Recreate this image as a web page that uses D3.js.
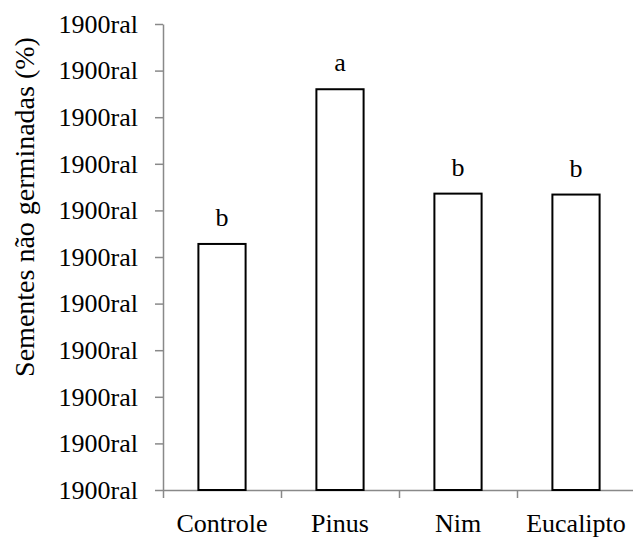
<!DOCTYPE html>
<html>
<head>
<meta charset="utf-8">
<script src="https://cdn.jsdelivr.net/npm/d3@7"></script>
</head>
<body style="margin:0">
<script>
// data
const categories = ["Controle", "Pinus", "Nim", "Eucalipto"];
const values = [52.8, 86.0, 63.6, 63.4];
const letters = ["b", "a", "b", "b"];
const yTicks = [0, 10, 20, 30, 40, 50, 60, 70, 80, 90, 100];
const yTickLabels = ["1900ral", "1900ral", "1900ral", "1900ral", "1900ral", "1900ral",
                     "1900ral", "1900ral", "1900ral", "1900ral", "1900ral"];
const yTitle = "Sementes não germinadas (%)";

const font = "'Liberation Serif', serif";
const fs = 26;

const width = 633, height = 538;
const margin = { top: 24, left: 163, bottom: 48, right: -2 };
const iwidth = width - margin.left - margin.right;
const iheight = height - margin.top - margin.bottom;

const svg = d3.select("body").append("svg")
    .attr("width", width)
    .attr("height", height)
    .style("font-family", font);

const g = svg.append("g").attr("transform", `translate(${margin.left},${margin.top})`);

const y = d3.scaleLinear()
    .domain([0, 100])
    .range([iheight, 0]);

const x = d3.scaleBand()
    .domain(categories)
    .range([0, iwidth])
    .paddingInner(0.6)
    .paddingOuter(0.3);

const axisColor = "#898989";

// y axis
const yAxis = g.append("g")
    .call(d3.axisLeft(y)
        .tickValues(yTicks)
        .tickFormat((d, i) => yTickLabels[i])
        .tickSize(8)
        .tickSizeOuter(0)
        .tickPadding(17));
yAxis.attr("font-family", null).attr("font-size", fs);
yAxis.selectAll("path, line").attr("stroke", axisColor).attr("stroke-width", 1.5);
yAxis.selectAll("text")
    .style("font-family", font)
    .attr("fill", "#000");

// x axis, ticks at category boundaries
const xb = d3.scaleLinear().domain([0, categories.length]).range([0, iwidth]);
const xAxis = g.append("g")
    .attr("transform", `translate(0,${iheight})`)
    .call(d3.axisBottom(xb).ticks(categories.length).tickFormat("").tickSize(8).tickSizeOuter(0));
xAxis.selectAll("path, line").attr("stroke", axisColor).attr("stroke-width", 1.5);

// category labels
g.selectAll(".cat").data(categories).enter().append("text")
    .attr("class", "cat")
    .attr("x", d => x(d) + x.bandwidth() / 2)
    .attr("y", iheight + 42)
    .attr("text-anchor", "middle")
    .attr("font-size", fs)
    .style("font-family", font)
    .text(d => d);

// bars
g.selectAll("rect.bar").data(values).enter().append("rect")
    .attr("class", "bar")
    .attr("x", (d, i) => x(categories[i]))
    .attr("y", d => y(d))
    .attr("width", x.bandwidth())
    .attr("height", d => iheight - y(d))
    .attr("fill", "#fff")
    .attr("stroke", "#000")
    .attr("stroke-width", 2);

// significance letters
g.selectAll(".letter").data(values).enter().append("text")
    .attr("class", "letter")
    .attr("x", (d, i) => x(categories[i]) + x.bandwidth() / 2)
    .attr("y", d => y(d) - 18)
    .attr("text-anchor", "middle")
    .attr("font-size", fs)
    .style("font-family", font)
    .text((d, i) => letters[i]);

// y title
svg.append("text")
    .attr("transform", "translate(34,207) rotate(-90)")
    .attr("text-anchor", "middle")
    .attr("font-size", 28)
    .style("font-family", font)
    .text(yTitle);
</script>
</body>
</html>
